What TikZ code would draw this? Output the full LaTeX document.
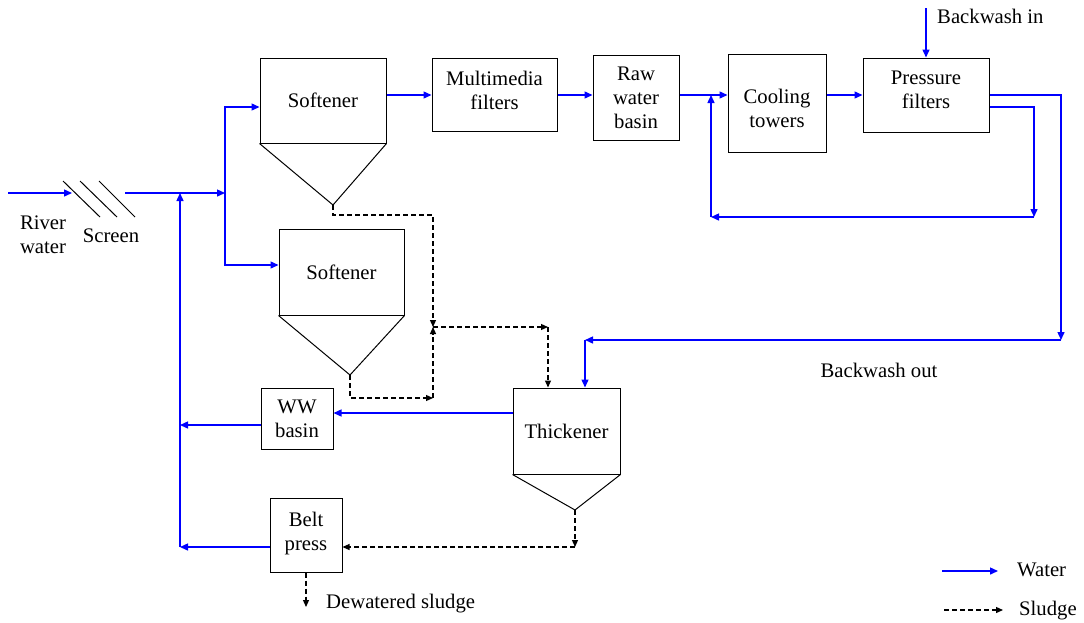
\documentclass[tikz,border=0pt]{standalone}
\usepackage{fontspec}
\setmainfont{Liberation Serif}
\usepackage{xcolor}
\usepackage{tikz}
\usetikzlibrary{positioning, arrows.meta, calc}
\definecolor{waterblue}{HTML}{0000FF}

\begin{document}
\begin{tikzpicture}[x=1pt, y=-1pt,
    every node/.style={font=\fontsize{20.7}{24}\selectfont, inner sep=0pt},
    unit/.style={draw, line width=1pt, align=center},
    water/.style={draw=waterblue, line width=1.4pt, -{Triangle[length=8pt,width=7pt]}},
    sludge/.style={draw=black, line width=1.2pt, dash pattern=on 5pt off 3pt,
                   -{Triangle[length=7pt,width=6pt]}}]
    \useasboundingbox (0,0) rectangle (1084,622);

    % process units
    \node[unit, minimum width=126pt, minimum height=85pt] (s1) at (323,100.5) {Softener};
    \node[unit, minimum width=125pt, minimum height=86pt] (s2) at (341.5,272) {Softener};
    \node[unit, minimum width=125pt, minimum height=73pt, text depth=10pt] (mm) at (494.5,95) {Multimedia\\filters};
    \node[unit, minimum width=86pt, minimum height=85pt] (raw) at (636,97.5) {Raw\\water\\basin};
    \node[unit, minimum width=98pt, minimum height=98pt, text height=50pt] (cool) at (777,103) {Cooling\\towers};
    \node[unit, minimum width=126pt, minimum height=74pt, text depth=10pt] (pf) at (926,95) {Pressure\\filters};
    \node[unit, minimum width=107pt, minimum height=86pt] (th) at (566.5,431) {Thickener};
    \node[unit, minimum width=72pt, minimum height=61pt] (ww) at (297,418.5) {WW\\basin};
    \node[unit, minimum width=72pt, minimum height=74pt, text depth=8pt] (belt) at (306,535) {Belt\\press};

    % hoppers
    \coordinate (s1tip) at (333,205);
    \coordinate (s2tip) at (350,375);
    \coordinate (thtip) at (575,510);
    \draw[line width=1pt] (s1.south west) -- (s1tip) -- (s1.south east);
    \draw[line width=1pt] (s2.south west) -- (s2tip) -- (s2.south east);
    \draw[line width=1pt] (th.south west) -- (thtip) -- (th.south east);

    % screen
    \draw[line width=1pt] (63,181) -- (100,217);
    \draw[line width=1pt] (80,181) -- (117,217);
    \draw[line width=1pt] (99,181) -- (135,217);

    % labels
    \node[align=center] (river) at (43,235) {River\\water};
    \node[anchor=base] (screen) at (111,242) {Screen};
    \node[anchor=base west] (bwin) at (937,23) {Backwash in};
    \node[anchor=base] (bwout) at (879,377) {Backwash out};
    \node[anchor=base west] (dws) at (326,608) {Dewatered sludge};
    \node[anchor=base west] (lgw) at (1017,576) {Water};
    \node[anchor=base west] (lgs) at (1019,615) {Sludge};

    % water lines
    \coordinate (rin) at (8,193);
    \coordinate (scrin) at (72,193);
    \coordinate (scrout) at (125,193);
    \coordinate (jmain) at (180,193);
    \coordinate (jbot) at (180,547);
    \coordinate (split) at (225,193);
    \draw[water] (rin) -- (scrin);
    \draw[water] (scrout) -- (split);
    \draw[water] (split) |- ($(s1.west)+(0,6.5)$);
    \draw[water] (split) |- ($(s2.west)+(0,-7)$);
    \draw[water] (s1.east |- mm.west) -- (mm.west);
    \draw[water] (mm.east) -- (mm.east -| raw.west);
    \draw[water] (raw.east |- pf.west) -- (cool.west |- pf.west);
    \draw[water] (cool.east |- pf.west) -- (pf.west);
    \coordinate (bwtop) at (926,8);
    \draw[water] (bwtop) -- (pf.north);

    % filter recycle
    \coordinate (pr1) at (1034,217);
    \coordinate (pr2) at (711,217);
    \coordinate (pr3) at (711,95);
    \draw[water] ($(pf.east)+(0,12)$) -| (pr1);
    \draw[water] (pr1) -- (pr2);
    \draw[water] (pr2) -- (pr3);

    % backwash out
    \coordinate (bo1) at (1061,340);
    \coordinate (bo2) at (585,340);
    \draw[water] (pf.east) -| (bo1);
    \draw[water] (bo1) -- (bo2);
    \draw[water] (bo2) -- (bo2 |- th.north);

    % returns
    \coordinate (tho) at ($(th.west)+(0,-18)$);
    \coordinate (wwo) at ($(ww.west)+(0,6.5)$);
    \coordinate (bpo) at ($(belt.west)+(0,12)$);
    \draw[water] (tho) -- (tho -| ww.east);
    \draw[water] (wwo) -- (wwo -| jmain);
    \draw[water] (bpo) -- (bpo -| jmain);
    \draw[water] (jbot) -- (jmain);

    % sludge lines
    \coordinate (s1d) at (433,215);
    \coordinate (sj) at (433,327);
    \coordinate (s2d) at (433,398);
    \coordinate (tj) at (548,327);
    \coordinate (thd) at (575,547);
    \coordinate (dwend) at (306,607);
    \draw[sludge] (s1tip) |- (s1d) -- (sj);
    \draw[sludge] (s2tip) |- (s2d);
    \draw[sludge] (s2d) -- (sj);
    \draw[sludge] (sj) -- (tj);
    \draw[sludge] (tj) -- (tj |- th.north);
    \draw[sludge] (thtip) -- (thd);
    \draw[sludge] (thd) -- (thd -| belt.east);
    \draw[sludge] (belt.south) -- (dwend);

    % legend
    \coordinate (lw1) at (942,571);
    \coordinate (lw2) at (998,571);
    \coordinate (ls1) at (944,610);
    \coordinate (ls2) at (1003,610);
    \draw[water] (lw1) -- (lw2);
    \draw[sludge] (ls1) -- (ls2);
\end{tikzpicture}
\end{document}
